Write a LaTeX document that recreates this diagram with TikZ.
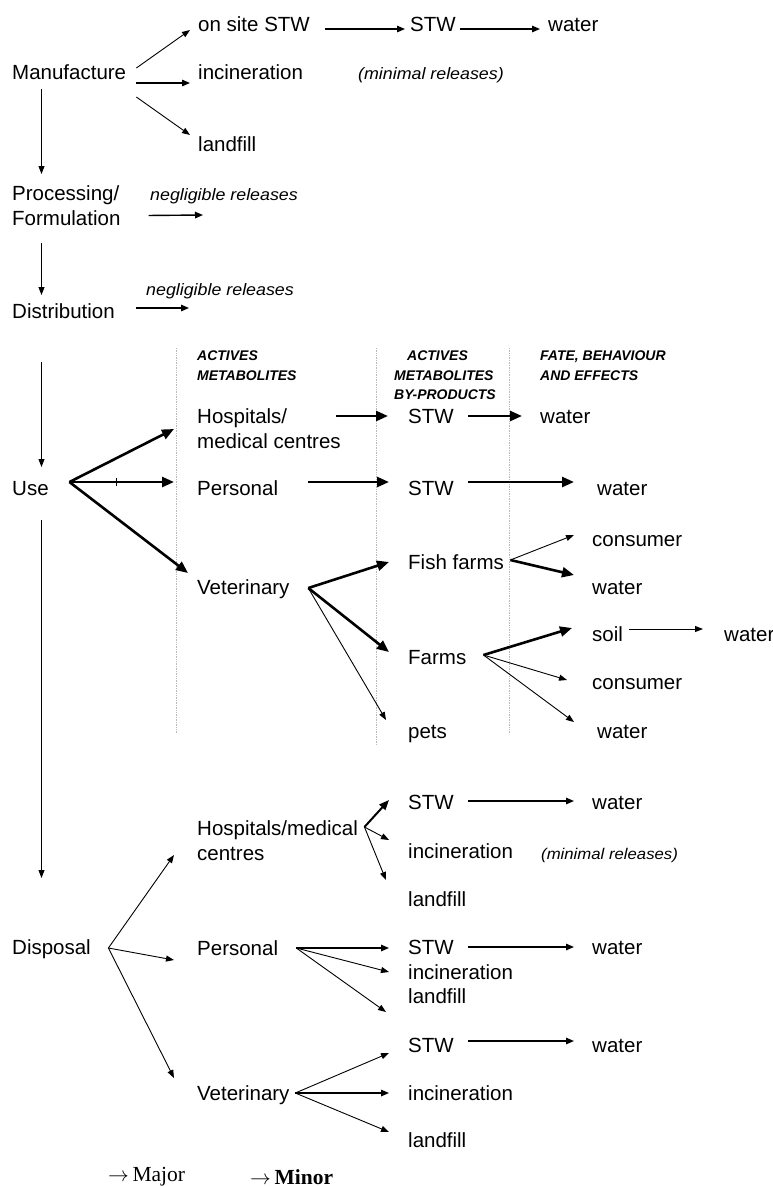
\documentclass[tikz,border=0pt]{standalone}
\usepackage{fontspec}
\setmainfont{Liberation Sans}
\newfontfamily\itf[FakeStretch=1.08]{Liberation Sans}
\newfontfamily\serf{Liberation Serif}
\usetikzlibrary{arrows.meta,decorations.markings}
\begin{document}
\begin{tikzpicture}[x=1pt,y=-1pt,
  lab/.style={font=\fontsize{20.5}{24.5}\selectfont, inner sep=0pt, anchor=west, text height=14.7pt, text depth=0pt},
  ml/.style={font=\fontsize{20.5}{24.5}\selectfont, inner sep=0pt, anchor=north west, align=left},
  note/.style={font=\itf\itshape\fontsize{16.5}{20}\selectfont, inner sep=0pt, anchor=west, text height=12pt, text depth=0pt},
  hdr/.style={font=\bfseries\itshape\fontsize{14}{19.5}\selectfont, inner sep=0pt, anchor=north west, align=left},
  leg/.style={font=\serf\fontsize{21.5}{25}\selectfont, inner sep=0pt, anchor=west},
  thin/.style={draw, line width=0.9pt, -{Triangle[length=8pt,width=6pt]}},
  mid/.style={draw, line width=1.4pt, -{Triangle[length=8pt,width=6.5pt]}},
  thick/.style={draw, line width=2.6pt, -{Triangle[length=12pt,width=10pt]}},
  semithickarr/.style={draw, line width=2pt, -{Triangle[length=10pt,width=8pt]}},
  sep/.style={draw=gray!55, line width=0.7pt, densely dotted}]
\useasboundingbox (0,0) rectangle (773,1187);

% ---------- top ----------
\node[lab] (manu) at (12,72) {Manufacture};
\node[lab] (onsite) at (198,24) {on site STW};
\node[lab] (stwA) at (410,24) {STW};
\node[lab] (waterA) at (548,24) {water};
\node[lab] (incA) at (198,72) {incineration};
\node[note] (minA) at (358,73) {(minimal releases)};
\node[lab] (landA) at (198,144) {landfill};
\node[ml] (proc) at (12,185.5) {Processing/\\Formulation};
\node[note] (neg1) at (150,194) {negligible releases};
\node[lab] (dist) at (12,311) {Distribution};
\node[note] (neg2) at (146,289) {negligible releases};

\path[thin] ([shift={(10,-4)}]manu.east) -- ([shift={(-8,6)}]onsite.west);
\path[mid] ([shift={(10,11)}]manu.east) -- ([shift={(-8,11)}]incA.west);
\path[thin] ([shift={(10,25)}]manu.east) -- ([shift={(-8,-9)}]landA.west);
\path[mid] ([shift={(15,5)}]onsite.east) -- ([shift={(-5,5)}]stwA.west);
\path[mid] ([shift={(4,5)}]stwA.east) -- ([shift={(-8,5)}]waterA.west);
\path[thin] ([shift={(29.5,17)}]manu.west) -- ([shift={(29.5,-11.5)}]proc.north west);
\path[mid] ([shift={(28,10)}]proc.east) -- ([shift={(53,21)}]neg1.west);
\path[thin] ([shift={(29.5,18)}]proc.south west) -- ([shift={(29.5,-16)}]dist.west);
\path[mid] ([shift={(21.5,-3)}]dist.east) -- ([shift={(43,19)}]neg2.west);

% ---------- use ----------
\node[lab] (use) at (12,488) {Use};
\path[thin] ([shift={(29.5,-126)}]use.west) -- ([shift={(29.5,-21)}]use.west);

\draw[sep] (176,348) -- (176,733);
\draw[sep] (376,348) -- (376,745);
\draw[sep] (509,348) -- (509,733);

\node[hdr] (h1) at (197,351) {ACTIVES\\METABOLITES};
\node[hdr] (h2) at (394,351) {\hspace{13pt}ACTIVES\\METABOLITES\\BY-PRODUCTS};
\node[hdr] (h3) at (540,351) {FATE, BEHAVIOUR\\AND EFFECTS};

\node[ml] (hosp) at (197,408.5) {Hospitals/\\medical centres};
\node[lab] (pers) at (197,488) {Personal};
\node[lab] (vet) at (197,587) {Veterinary};
\node[lab] (stwB) at (408,416) {STW};
\node[lab] (waterB) at (540,416) {water};
\node[lab] (stwC) at (408,488) {STW};
\node[lab] (waterC) at (597,488) {water};
\node[lab] (fish) at (408,562) {Fish farms};
\node[lab] (consA) at (592,539) {consumer};
\node[lab] (waterD) at (592,587) {water};
\node[lab] (farms) at (408,657) {Farms};
\node[lab] (soil) at (592,634) {soil};
\node[lab] (waterE) at (724,634) {water};
\node[lab] (consB) at (592,682) {consumer};
\node[lab] (waterF) at (597,731) {water};
\node[lab] (pets) at (408,731) {pets};

\path[thick] ([shift={(20.6,-6)}]use.east) -- ([shift={(-23,20.5)}]hosp.north west);
\path[thick, postaction={decorate}, decoration={markings, mark=at position 0.45 with {\draw[line width=1.2pt, arrows=-] (0,-4pt) -- (0,4pt);}}]
  ([shift={(20.6,-6)}]use.east) -- ([shift={(-23,-6)}]pers.west);
\path[thick] ([shift={(20.6,-6)}]use.east) -- ([shift={(-9,-14)}]vet.west);
\path[thick] ([shift={(-4.5,7.5)}]hosp.north east) -- ([shift={(-20,0)}]stwB.west);
\path[thick] ([shift={(14.5,0)}]stwB.east) -- ([shift={(-18,0)}]waterB.west);
\path[thick] ([shift={(30,-6)}]pers.east) -- ([shift={(-19,-6)}]stwC.west);
\path[thick] ([shift={(14.5,-6)}]stwC.east) -- ([shift={(-23,-6)}]waterC.west);
\path[thick] ([shift={(18.6,1)}]vet.east) -- ([shift={(-19,0)}]fish.west);
\path[thick] ([shift={(18.6,1)}]vet.east) -- ([shift={(-19,-5)}]farms.west);
\path[thin] ([shift={(18.6,1)}]vet.east) -- ([shift={(-22,-11)}]pets.west);
\path[thin] ([shift={(6.3,-2)}]fish.east) -- ([shift={(-18,-4)}]consA.west);
\path[thick] ([shift={(6.3,-2)}]fish.east) -- ([shift={(-18,-12)}]waterD.west);
\path[thick] ([shift={(17,-2)}]farms.east) -- ([shift={(-20,-6)}]soil.west);
\path[thin] ([shift={(17,-2)}]farms.east) -- ([shift={(-25,-2)}]consB.west);
\path[thin] ([shift={(17,-2)}]farms.east) -- ([shift={(-23,-9)}]waterF.west);
\path[thin] ([shift={(6.2,-5)}]soil.east) -- ([shift={(-21,-5)}]waterE.west);

% ---------- disposal ----------
\node[lab] (disp) at (12,947) {Disposal};
\path[thin] ([shift={(29.5,32)}]use.west) -- ([shift={(29.5,-69)}]disp.west);

\node[ml] (hosp2) at (197,820.5) {Hospitals/medical\\centres};
\node[lab] (stwD) at (408,802) {STW};
\node[lab] (waterG) at (592,802) {water};
\node[lab] (incB) at (408,851) {incineration};
\node[note, font=\itf\itshape\fontsize{15.5}{19}\selectfont] (minB) at (541,853) {(minimal releases)};
\node[lab] (landB) at (408,899) {landfill};
\node[lab] (pers2) at (197,948) {Personal};
\node[lab] (stwE) at (408,947) {STW};
\node[lab] (waterH) at (592,947) {water};
\node[lab] (incC) at (408,972) {incineration};
\node[lab] (landC) at (408,996) {landfill};
\node[lab] (stwF) at (408,1045) {STW};
\node[lab] (waterI) at (592,1045) {water};
\node[lab] (vet2) at (197,1093) {Veterinary};
\node[lab] (incD) at (408,1093) {incineration};
\node[lab] (landD) at (408,1140) {landfill};

\path[thin] ([shift={(17.4,1)}]disp.east) -- ([shift={(-23,34.5)}]hosp2.north west);
\path[thin] ([shift={(17.4,1)}]disp.east) -- ([shift={(-23,12)}]pers2.west);
\path[thin] ([shift={(17.4,1)}]disp.east) -- ([shift={(-23,-15)}]vet2.west);
\path[semithickarr] ([shift={(6.4,6.5)}]hosp2.north east) -- ([shift={(-19,-2)}]stwD.west);
\path[thin] ([shift={(6.4,6.5)}]hosp2.north east) -- ([shift={(-19,-11)}]incB.west);
\path[thin] ([shift={(6.4,6.5)}]hosp2.north east) -- ([shift={(-22,-19)}]landB.west);
\path[mid] ([shift={(14.5,-1)}]stwD.east) -- ([shift={(-18,-1)}]waterG.west);
\path[mid] ([shift={(18,0)}]pers2.east) -- ([shift={(-19,1)}]stwE.west);
\path[thin] ([shift={(18,0)}]pers2.east) -- ([shift={(-19,0)}]incC.west);
\path[thin] ([shift={(18,0)}]pers2.east) -- ([shift={(-22,16)}]landC.west);
\path[mid] ([shift={(14.5,0)}]stwE.east) -- ([shift={(-18,0)}]waterH.west);
\path[mid] ([shift={(14.5,-4)}]stwF.east) -- ([shift={(-18,-4)}]waterI.west);
\path[thin] ([shift={(5.6,0)}]vet2.east) -- ([shift={(-19,8)}]stwF.west);
\path[mid] ([shift={(5.6,0)}]vet2.east) -- ([shift={(-19,0)}]incD.west);
\path[thin] ([shift={(5.6,0)}]vet2.east) -- ([shift={(-19,-8)}]landD.west);

% ---------- legend ----------
\node[leg] (lmaj) at (108,1177) {$\rightarrow$\,Major};
\node[leg, font=\serf\bfseries\fontsize{21.5}{25}\selectfont] (lmin) at (250,1177) {$\rightarrow$\,Minor};
\end{tikzpicture}
\end{document}
